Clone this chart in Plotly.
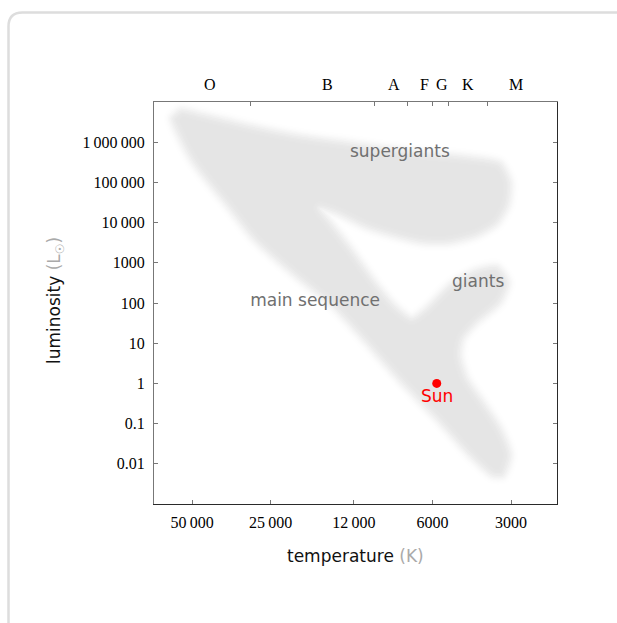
import math
import plotly.graph_objects as go

# ---------------- data ----------------
SPECTRAL_CLASSES = ["O", "B", "A", "F", "G", "K", "M"]
SPECTRAL_LABEL_TEMP = [42700, 15200, 8430, 6420, 5540, 4380, 2860]
SPECTRAL_BOUNDARY_TEMP = [30000, 10000, 7500, 6000, 5200, 3700]

TS = "\u2009"
TEMP_TICKS = [50000, 25000, 12000, 6000, 3000]
TEMP_TICK_TEXT = ["50" + TS + "000", "25" + TS + "000", "12" + TS + "000", "6000", "3000"]
LUM_TICKS = [1e6, 1e5, 1e4, 1e3, 100, 10, 1, 0.1, 0.01]
LUM_TICK_TEXT = ["1" + TS + "000" + TS + "000", "100" + TS + "000", "10" + TS + "000",
                 "1000", "100", "10", "1", "0.1", "0.01"]

REGION_NAMES = ["supergiants", "main sequence", "giants"]
REGION_TEMP = [8000, 16900, 4010]
REGION_LUM = [560000, 110, 320]

SUN_TEMP = 5778
SUN_LUM = 1.0

# outline of the stellar populations region (temperature K, luminosity Lsun)
SHAPE_TEMP = [30000, 19300, 12400, 6890, 4440, 3310, 3030, 3090,
              3400, 4060, 5150, 6530, 8000, 10700, 13900, 16200, 14800, 12400,
              9790, 8200, 7190, 6310, 5150, 4060, 3400, 3090, 3310, 4060,
              4590, 4710, 4440, 3850, 3310, 3030, 3230, 3520, 4320, 5620,
              8000, 11380, 14550, 20180, 28700, 36700, 49500, 57000, 59600,
              55000, 46600, 30000]
SHAPE_LUM = [2.49e6, 1.40e6, 9.4e5, 5.61e5, 4.21e5, 2.99e5, 1.0e5, 2.69e4,
             9620, 4830, 3240, 3240, 4310, 7640, 17000, 22700, 10200, 2290,
             275, 73.8, 41.6, 73.8, 275, 650, 773, 327, 104, 33.1,
             13.2, 5.0, 1.34, 0.339, 0.0764, 0.0163, 0.00518, 0.00518, 0.0163, 0.108,
             1.19, 15.7, 87, 489, 3630, 26900, 3.16e5, 1.76e6, 3.94e6,
             6.22e6, 4.94e6, 2.49e6]

# ---------------- figure ----------------
W, H = 617, 623
ML, MR, MT, MB = 154, 60, 102, 119
PW, PH = W - ML - MR, H - MT - MB

def px(x):
    return (x - ML) / PW

def py(y):
    return (H - MB - y) / PH

AX_LIGHT = "#777777"
AX_DARK = "#2a2a2a"
TICK_C = "#777777"
SERIF = "Liberation Serif, Times New Roman, serif"
SANS = "DejaVu Sans, Verdana, sans-serif"
XR = [math.log10(70000), math.log10(2000)]
YR = [-3, 7]
REGION_GREY = "#e5e5e5"
D0 = 1 - 229 / 255          # darkness of the region interior

fig = go.Figure()

# ---- soft (gaussian-like) edge for the grey region, built from strokes ----
SIGMA, NL = 5.0, 10
RMAX = 3 * SIGMA
radii = [RMAX * (j + 1) / NL for j in range(NL)]          # stroke half-widths


def edge_s(t):  # fraction of darkness at distance t outside the edge
    return 0.5 * math.erfc(t / (SIGMA * math.sqrt(2)))


mids = [RMAX * (j + 0.5) / NL for j in range(NL)]
P = [1 - edge_s(t) for t in mids] + [1.0]
Q = [1 - D0 * edge_s(t) / (1 - edge_s(t)) for t in mids] + [1.0]
white_alpha = [1 - P[j] / P[j + 1] for j in range(NL)]
halo_alpha = [1 - Q[j] / Q[j + 1] for j in range(NL)]

line_shape = dict(shape="spline", smoothing=0.7)
for r, a in zip(radii, halo_alpha):
    fig.add_trace(go.Scatter(
        x=SHAPE_TEMP, y=SHAPE_LUM, mode="lines",
        line=dict(width=2 * r, color=f"rgba(0,0,0,{a:.5f})", **line_shape),
        hoverinfo="skip", showlegend=False))
fig.add_trace(go.Scatter(
    x=SHAPE_TEMP, y=SHAPE_LUM, mode="lines", fill="toself",
    fillcolor=REGION_GREY, line=dict(width=0, color=REGION_GREY, **line_shape),
    hoverinfo="skip", showlegend=False))
for r, a in zip(radii, white_alpha):
    fig.add_trace(go.Scatter(
        x=SHAPE_TEMP, y=SHAPE_LUM, mode="lines",
        line=dict(width=2 * r, color=f"rgba(255,255,255,{a:.5f})", **line_shape),
        hoverinfo="skip", showlegend=False))

# region labels
fig.add_trace(go.Scatter(
    x=REGION_TEMP, y=REGION_LUM, mode="text", text=REGION_NAMES,
    textfont=dict(family=SANS, size=17, color="#707070"),
    hoverinfo="skip", showlegend=False))

# Sun
fig.add_trace(go.Scatter(
    x=[SUN_TEMP], y=[SUN_LUM], mode="markers",
    marker=dict(color="#ff0000", size=9),
    hoverinfo="skip", showlegend=False))

# invisible trace to hold the top and right axes
fig.add_trace(go.Scatter(
    x=[SUN_TEMP], y=[SUN_LUM], xaxis="x2", yaxis="y2", mode="markers",
    marker=dict(size=0.1, opacity=0), hoverinfo="skip", showlegend=False))

annotations = [
    dict(x=math.log10(SUN_TEMP), y=math.log10(SUN_LUM), xref="x", yref="y",
         text="Sun", showarrow=False, yshift=-13,
         font=dict(family=SANS, size=17, color="#ff0000")),
    dict(x=0.5, y=py(556), xref="paper", yref="paper", showarrow=False,
         text="temperature <span style='color:#aaaaaa'>(K)</span>",
         font=dict(family=SANS, size=17, color="#111111"),
         xanchor="center", yanchor="middle"),
    dict(x=px(55), y=py(301), xref="paper", yref="paper", showarrow=False,
         text="luminosity <span style='color:#aaaaaa'>(L<sub>\u2609</sub>)</span>",
         textangle=-90,
         font=dict(family=SANS, size=17, color="#111111"),
         xanchor="center", yanchor="middle"),
]
for name, t in zip(SPECTRAL_CLASSES, SPECTRAL_LABEL_TEMP):
    annotations.append(dict(x=math.log10(t), y=py(85), xref="x", yref="paper",
                            text=name, showarrow=False, yanchor="middle",
                            font=dict(family=SERIF, size=16, color="#000000")))

# outer rounded frame
L0, T0, R0, B0, RAD = 8.5, 12.5, 660, 660, 14
frame = (f"M {px(L0)},{py(B0)} L {px(L0)},{py(T0 + RAD)} "
         f"Q {px(L0)},{py(T0)} {px(L0 + RAD)},{py(T0)} L {px(R0)},{py(T0)}")

common = dict(showgrid=False, zeroline=False, ticks="inside", ticklen=4,
              tickcolor=TICK_C, tickwidth=1, showline=True, linewidth=1)

fig.update_layout(
    width=W, height=H,
    margin=dict(l=ML, r=MR, t=MT, b=MB),
    paper_bgcolor="white", plot_bgcolor="white",
    showlegend=False,
    xaxis=dict(type="log", range=XR, tickvals=TEMP_TICKS, ticktext=TEMP_TICK_TEXT,
               linecolor=AX_DARK,
               tickfont=dict(family=SERIF, size=16, color="#000000"),
               ticklabelstandoff=4, **common),
    xaxis2=dict(type="log", range=XR, overlaying="x", side="top", anchor="y2",
                tickvals=SPECTRAL_BOUNDARY_TEMP, showticklabels=False,
                linecolor=AX_LIGHT, **common),
    yaxis=dict(type="log", range=YR, tickvals=LUM_TICKS, ticktext=LUM_TICK_TEXT,
               linecolor=AX_LIGHT,
               tickfont=dict(family=SERIF, size=16, color="#000000"),
               ticklabelstandoff=5, **common),
    yaxis2=dict(type="log", range=YR, overlaying="y", side="right", anchor="x2",
                tickvals=LUM_TICKS, showticklabels=False,
                linecolor=AX_DARK, **common),
    annotations=annotations,
    shapes=[dict(type="path", path=frame, xref="paper", yref="paper",
                 line=dict(color="#dddddd", width=2.5), layer="below")],
)

fig.write_html("out.html")
